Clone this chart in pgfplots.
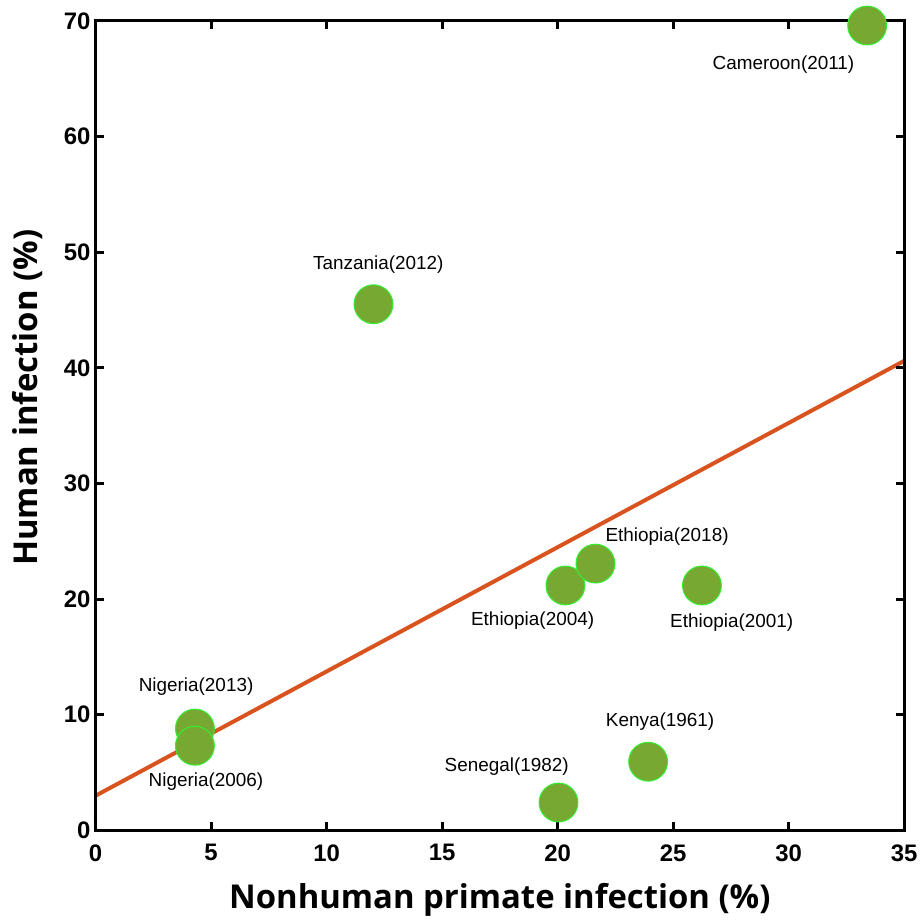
\documentclass[border=0pt]{standalone}
\usepackage{fontspec}
\setmainfont{Liberation Sans}
\newfontfamily\labfont{Open Sans}
\usepackage{pgfplots}
\pgfplotsset{compat=1.18}
\definecolor{fillg}{HTML}{77A832}
\definecolor{edgeg}{HTML}{33EE33}
\definecolor{lineo}{HTML}{D9531E}
\begin{document}
\begin{tikzpicture}
\begin{axis}[
  scale only axis, width=406pt, height=406.5pt,
  xmin=0, xmax=35, ymin=0, ymax=70,
  xtick={0,5,...,35}, ytick={0,10,...,70},
  clip=false, axis on top,
  axis line style={line width=1.5pt},
  major tick style={line width=1.5pt, black},
  major tick length=4pt,
  tick align=inside,
  /pgf/number format/assume math mode=true,
  ticklabel style={font=\fontsize{12}{14}\selectfont\bfseries},
  xticklabel style={yshift=-3.5pt},
  yticklabel style={xshift=1pt},
  xlabel={\labfont\bfseries\fontsize{16.5}{19}\selectfont Nonhuman primate infection (\%)},
  ylabel={\labfont\bfseries\fontsize{16.5}{19}\selectfont Human infection (\%)},
  xlabel style={yshift=-4pt},
  ylabel style={yshift=4pt, xshift=14pt},
]
\addplot[only marks, mark=*, mark size=9.75pt, mark options={fill=fillg, draw=edgeg, line width=0.5pt}] coordinates {
  (33.4,69.6) (12.03,45.5) (20.34,21.18) (21.64,23.07) (26.25,21.18)
  (4.3,8.81) (4.3,7.32) (23.92,5.94) (20.04,2.41)
};
\addplot[lineo, line width=2pt] coordinates {(0,3.0) (35,40.6)};
\begin{scope}[every node/.style={font=\fontsize{9.5}{11}\selectfont}]
\node at (axis cs:29.78,66.2) {Cameroon(2011)};
\node at (axis cs:12.24,48.9) {Tanzania(2012)};
\node at (axis cs:24.74,25.4) {Ethiopia(2018)};
\node at (axis cs:18.92,18.17) {Ethiopia(2004)};
\node at (axis cs:27.54,18.0) {Ethiopia(2001)};
\node at (axis cs:4.35,12.4) {Nigeria(2013)};
\node at (axis cs:4.78,4.2) {Nigeria(2006)};
\node at (axis cs:24.44,9.39) {Kenya(1961)};
\node at (axis cs:17.8,5.48) {Senegal(1982)};
\end{scope}
\end{axis}
\path (current axis.south west) ++(-48pt,-40pt);
\path (current axis.north east) ++(8pt,10.5pt);
\end{tikzpicture}
\end{document}
